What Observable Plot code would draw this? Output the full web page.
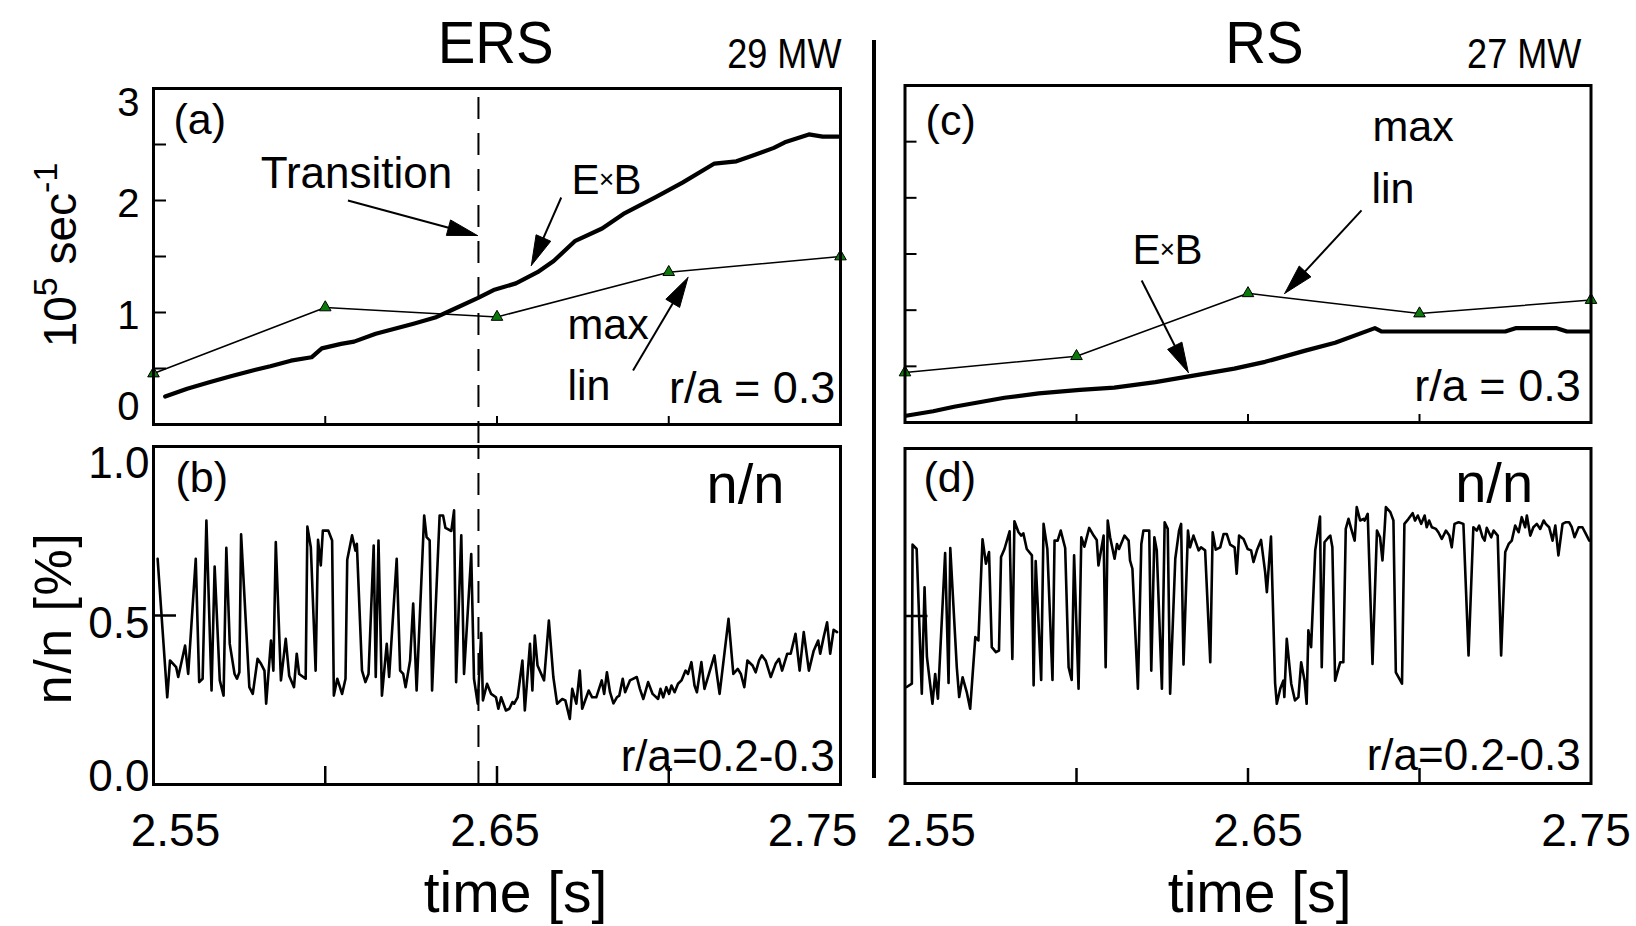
<!DOCTYPE html>
<html><head><meta charset="utf-8">
<script src="https://cdn.jsdelivr.net/npm/d3@7"></script>
<script src="https://cdn.jsdelivr.net/npm/@observablehq/plot@0.6"></script>
<style>
body{margin:0;background:#fff;}
#chart{position:relative;width:1636px;height:926px;overflow:hidden;font-family:"Liberation Sans",Arial,Helvetica,sans-serif;}
#chart svg{position:absolute;left:0;top:0;}
#sep{position:absolute;left:872px;top:40px;width:4px;height:738px;background:#000;}
</style></head><body><div id="chart"><div id="sep"></div></div>
<script>
// ---------------- data ----------------
const timeLabelValues = [2.55, 2.65, 2.75];
const innerTimeTicks = [2.60, 2.65, 2.70];
const rateTicks = [0.5, 1, 1.5, 2, 2.5];
const rateLabels = [3, 2, 1, 0];
const densTicksLeft = [0.5, 1.0];
const densLabels = [1.0, 0.5, 0.0];
const transitionTime = 2.6446;

// (a) ERS, r/a = 0.3
const ersLinTime = [2.55, 2.60, 2.65, 2.70, 2.75];
const ersLinMax = [0.455, 1.045, 0.96, 1.36, 1.50];
const ersExbTime = [2.5534, 2.5598, 2.566, 2.5725, 2.5786, 2.5840, 2.5900, 2.5960, 2.5990, 2.6046, 2.6084, 2.6147, 2.6257, 2.632, 2.6367, 2.6445, 2.649, 2.6555, 2.6618, 2.6665, 2.6728, 2.6806, 2.6868, 2.6962, 2.704, 2.7133, 2.7197, 2.7243, 2.7306, 2.7338, 2.7408, 2.7448, 2.7494];
const ersExbRate = [0.25, 0.32, 0.375, 0.43, 0.48, 0.52, 0.57, 0.60, 0.68, 0.72, 0.74, 0.81, 0.90, 0.955, 1.02, 1.13, 1.20, 1.26, 1.36, 1.46, 1.64, 1.75, 1.88, 2.03, 2.16, 2.33, 2.35, 2.40, 2.47, 2.52, 2.59, 2.57, 2.57];

// (c) RS, r/a = 0.3
const rsLinTime = [2.55, 2.60, 2.65, 2.70, 2.75];
const rsLinMax = [0.445, 0.59, 1.15, 0.97, 1.09];
const rsExbTime = [2.5503, 2.5582, 2.5643, 2.579, 2.589, 2.601, 2.611, 2.623, 2.6345, 2.646, 2.655, 2.6667, 2.6754, 2.687, 2.689, 2.725, 2.728, 2.740, 2.743, 2.7497];
const rsExbRate = [0.06, 0.10, 0.14, 0.22, 0.26, 0.29, 0.31, 0.36, 0.42, 0.48, 0.54, 0.64, 0.71, 0.84, 0.81, 0.81, 0.84, 0.84, 0.81, 0.81];

// (b) ERS density fluctuation, r/a = 0.2-0.3
const ersFlucTime = [2.5512,2.5540,2.5548,2.5566,2.5572,2.5592,2.5601,2.5623,2.5633,2.5643,2.5654,2.5669,2.5678,2.5693,2.5704,2.5712,2.5722,2.5736,2.5743,2.5750,2.5755,2.5779,2.5789,2.5803,2.5813,2.5823,2.5828,2.5842,2.5849,2.5856,2.5871,2.5885,2.5895,2.5909,2.5917,2.5924,2.5943,2.5948,2.5958,2.5972,2.5979,2.5987,2.5993,2.6009,2.6020,2.6025,2.6035,2.6049,2.6059,2.6064,2.6078,2.6088,2.6092,2.6107,2.6117,2.6126,2.6141,2.6147,2.6155,2.6165,2.6179,2.6186,2.6208,2.6218,2.6227,2.6234,2.6247,2.6256,2.6266,2.6288,2.6295,2.6304,2.6311,2.6333,2.6343,2.6350,2.6367,2.6375,2.6381,2.6396,2.6404,2.6425,2.6433,2.6444,2.6454,2.6459,2.6471,2.6483,2.6497,2.6504,2.6512,2.6526,2.6536,2.6545,2.6550,2.6560,2.6574,2.6581,2.6596,2.6603,2.6610,2.6618,2.6637,2.6651,2.6664,2.6675,2.6690,2.6699,2.6712,2.6719,2.6731,2.6741,2.6748,2.6767,2.6777,2.6789,2.6805,2.6812,2.6820,2.6829,2.6839,2.6849,2.6856,2.6866,2.6873,2.6887,2.6907,2.6916,2.6926,2.6940,2.6953,2.6969,2.6976,2.6984,2.6993,2.7001,2.7008,2.7017,2.7027,2.7037,2.7049,2.7056,2.7066,2.7075,2.7082,2.7095,2.7104,2.7117,2.7133,2.7140,2.7148,2.7162,2.7174,2.7188,2.7201,2.7210,2.7220,2.7229,2.7244,2.7253,2.7263,2.7271,2.7282,2.7297,2.7311,2.7321,2.7330,2.7345,2.7355,2.7369,2.7381,2.7393,2.7408,2.7422,2.7435,2.7441,2.7451,2.7461,2.7470,2.7480,2.7490];
const ersFlucPct = [0.668,0.258,0.367,0.347,0.318,0.411,0.327,0.668,0.303,0.313,0.781,0.278,0.645,0.308,0.263,0.700,0.416,0.327,0.313,0.332,0.740,0.288,0.268,0.372,0.357,0.337,0.239,0.426,0.337,0.717,0.308,0.431,0.322,0.288,0.387,0.327,0.313,0.763,0.702,0.337,0.724,0.648,0.751,0.751,0.722,0.263,0.313,0.268,0.313,0.665,0.737,0.692,0.712,0.337,0.303,0.327,0.707,0.318,0.722,0.263,0.416,0.318,0.668,0.337,0.327,0.288,0.367,0.535,0.278,0.796,0.732,0.722,0.278,0.796,0.796,0.759,0.750,0.811,0.303,0.737,0.327,0.682,0.313,0.239,0.448,0.249,0.298,0.268,0.258,0.224,0.258,0.219,0.224,0.244,0.239,0.258,0.367,0.219,0.416,0.278,0.441,0.352,0.308,0.485,0.318,0.239,0.253,0.249,0.194,0.283,0.239,0.337,0.224,0.278,0.258,0.258,0.308,0.268,0.332,0.273,0.240,0.258,0.263,0.313,0.273,0.308,0.318,0.283,0.253,0.303,0.268,0.253,0.283,0.258,0.288,0.268,0.293,0.273,0.298,0.308,0.337,0.327,0.362,0.293,0.273,0.362,0.283,0.327,0.382,0.327,0.268,0.387,0.490,0.327,0.342,0.327,0.288,0.367,0.352,0.332,0.367,0.382,0.367,0.318,0.357,0.372,0.337,0.387,0.387,0.446,0.337,0.451,0.337,0.396,0.426,0.387,0.436,0.480,0.387,0.458,0.451];

// (d) RS density fluctuation, r/a = 0.2-0.3
const rsFlucTime = [2.5505,2.5520,2.5522,2.5534,2.5549,2.5557,2.5564,2.5580,2.5588,2.5596,2.5617,2.5627,2.5632,2.5651,2.5658,2.5668,2.5680,2.5690,2.5705,2.5714,2.5726,2.5736,2.5745,2.5753,2.5765,2.5774,2.5780,2.5790,2.5805,2.5813,2.5819,2.5831,2.5839,2.5845,2.5855,2.5870,2.5875,2.5881,2.5897,2.5904,2.5915,2.5930,2.5936,2.5945,2.5954,2.5967,2.5977,2.5986,2.5993,2.6006,2.6014,2.6023,2.6037,2.6050,2.6059,2.6064,2.6079,2.6085,2.6091,2.6098,2.6111,2.6118,2.6124,2.6140,2.6152,2.6156,2.6163,2.6179,2.6189,2.6195,2.6212,2.6218,2.6227,2.6234,2.6249,2.6257,2.6266,2.6273,2.6288,2.6299,2.6305,2.6312,2.6325,2.6331,2.6341,2.6356,2.6363,2.6375,2.6390,2.6397,2.6406,2.6419,2.6429,2.6438,2.6448,2.6461,2.6467,2.6474,2.6487,2.6499,2.6509,2.6516,2.6526,2.6538,2.6550,2.6555,2.6567,2.6579,2.6584,2.6594,2.6603,2.6606,2.6613,2.6626,2.6637,2.6647,2.6655,2.6665,2.6671,2.6676,2.6684,2.6696,2.6710,2.6715,2.6723,2.6735,2.6740,2.6746,2.6754,2.6762,2.6769,2.6778,2.6785,2.6793,2.6801,2.6811,2.6817,2.6827,2.6837,2.6840,2.6849,2.6863,2.6876,2.6885,2.6892,2.6898,2.6902,2.6915,2.6924,2.6931,2.6949,2.6956,2.6968,2.6980,2.6987,2.6995,2.7005,2.7015,2.7021,2.7028,2.7036,2.7048,2.7055,2.7065,2.7077,2.7087,2.7094,2.7102,2.7114,2.7128,2.7143,2.7157,2.7167,2.7174,2.7184,2.7190,2.7196,2.7209,2.7216,2.7228,2.7238,2.7250,2.7260,2.7269,2.7279,2.7289,2.7298,2.7308,2.7313,2.7323,2.7332,2.7342,2.7352,2.7362,2.7368,2.7378,2.7388,2.7396,2.7405,2.7417,2.7427,2.7436,2.7444,2.7452,2.7464,2.7475,2.7485,2.7495];
const rsFlucPct = [0.288,0.298,0.713,0.700,0.268,0.586,0.377,0.238,0.327,0.253,0.688,0.300,0.703,0.347,0.258,0.317,0.273,0.223,0.437,0.427,0.729,0.656,0.691,0.407,0.392,0.397,0.676,0.700,0.753,0.372,0.783,0.750,0.740,0.747,0.700,0.681,0.293,0.664,0.309,0.775,0.700,0.309,0.725,0.725,0.755,0.703,0.347,0.309,0.681,0.283,0.735,0.707,0.763,0.740,0.727,0.651,0.740,0.347,0.785,0.735,0.671,0.715,0.700,0.740,0.725,0.666,0.641,0.283,0.715,0.755,0.755,0.337,0.735,0.696,0.283,0.780,0.760,0.268,0.671,0.755,0.775,0.355,0.755,0.705,0.740,0.696,0.705,0.696,0.362,0.750,0.698,0.705,0.745,0.745,0.713,0.705,0.626,0.740,0.730,0.700,0.696,0.661,0.696,0.727,0.631,0.571,0.737,0.300,0.238,0.283,0.307,0.258,0.432,0.298,0.248,0.258,0.362,0.307,0.238,0.457,0.407,0.696,0.797,0.347,0.720,0.735,0.740,0.705,0.307,0.337,0.362,0.362,0.760,0.790,0.760,0.725,0.825,0.785,0.790,0.785,0.805,0.357,0.755,0.735,0.666,0.755,0.825,0.810,0.785,0.332,0.298,0.775,0.790,0.807,0.785,0.800,0.775,0.800,0.765,0.785,0.765,0.760,0.750,0.730,0.755,0.740,0.705,0.775,0.780,0.775,0.382,0.765,0.755,0.770,0.735,0.725,0.763,0.735,0.755,0.740,0.382,0.691,0.715,0.725,0.770,0.750,0.795,0.765,0.800,0.740,0.765,0.775,0.760,0.785,0.775,0.765,0.725,0.770,0.681,0.775,0.780,0.780,0.765,0.735,0.765,0.765,0.745,0.725];

// annotation arrows (time, value of tail -> tip)
const ersArrows = [
  {name: "Transition", t1: 2.6066, v1: 2.00, t2: 2.6443, v2: 1.6875},
  {name: "ExB", t1: 2.6687, v1: 2.027, t2: 2.6600, v2: 1.42},
  {name: "maxlin", t1: 2.6896, v1: 0.482, t2: 2.7056, v2: 1.3125}
];
const rsArrows = [
  {name: "maxlin", t1: 2.6831, v1: 1.888, t2: 2.6607, v2: 1.149},
  {name: "ExB", t1: 2.6190, v1: 1.264, t2: 2.6326, v2: 0.445}
];

// ---------------- layout ----------------
const W = 1636, H = 926;
const FONT = '"Liberation Sans", Arial, Helvetica, sans-serif';
const L = {ers: [153, W - 840], rs: [904.5, W - 1590.5]};
const T = {a: [88, H - 424], b: [446, H - 784], c: [85, H - 422], d: [448, H - 783]};

const zip = (ts, vs) => ts.map((t, i) => ({t, v: vs[i]}));
const txt = (t, v, s, o = {}) => Plot.text([{t, v, s}], {x: "t", y: "v", text: "s", lineAnchor: "bottom", fill: "black", fontSize: 44, ...o});

function arrowMarks(arrows, horiz, vert, ydom) {
  const xs = Plot.scale({x: {domain: [2.55, 2.75], range: [horiz[0], W - horiz[1]]}});
  const ys = Plot.scale({y: {domain: ydom, range: [H - vert[1], vert[0]]}});
  const heads = [];
  const shafts = [];
  for (const a of arrows) {
    const x1 = xs.apply(a.t1), y1 = ys.apply(a.v1), x2 = xs.apply(a.t2), y2 = ys.apply(a.v2);
    const len = Math.hypot(x2 - x1, y2 - y1), ux = (x2 - x1) / len, uy = (y2 - y1) / len;
    const hl = 30, hw = 8;
    const bx = x2 - ux * hl, by = y2 - uy * hl;
    const pts = [[x2, y2], [bx - uy * hw, by + ux * hw], [bx + uy * hw, by - ux * hw], [x2, y2]];
    for (const [px, py] of pts) heads.push({id: a.name, t: xs.invert(px), v: ys.invert(py)});
    shafts.push({t1: a.t1, v1: a.v1, t2: xs.invert(bx + ux * 4), v2: ys.invert(by + uy * 4)});
  }
  return [
    Plot.link(shafts, {x1: "t1", y1: "v1", x2: "t2", y2: "v2", stroke: "black", strokeWidth: 2}),
    Plot.line(heads, {x: "t", y: "v", z: "id", fill: "black", stroke: "black", strokeWidth: 1, curve: "linear"})
  ];
}

function panel(horiz, vert, ydom, marks) {
  return Plot.plot({
    width: W, height: H,
    marginLeft: horiz[0], marginRight: horiz[1], marginTop: vert[0], marginBottom: vert[1],
    x: {domain: [2.55, 2.75], axis: null},
    y: {domain: ydom, axis: null},
    style: {background: "transparent", overflow: "visible", fontFamily: FONT, color: "black", position: "absolute", left: "0px", top: "0px", maxWidth: "none"},
    marks
  });
}

const exbText = (t, v) => [
  txt(t, v, "E", {textAnchor: "end", dx: -7, fontSize: 42}),
  txt(t, v, "×", {textAnchor: "middle", fontSize: 26, dy: -6}),
  txt(t, v, "B", {textAnchor: "start", dx: 7, fontSize: 42})
];
const rateLabel = (k, dy) => txt(2.55, rateLabels[k], String(rateLabels[k]), {textAnchor: "end", dx: -14, dy, fontSize: 40});

const chart = document.getElementById("chart");

// (a)
chart.appendChild(panel(L.ers, T.a, [0, 3], [
  Plot.axisY(rateTicks, {tickSize: 13, dx: 13, fill: "none", label: null, strokeWidth: 2}),
  Plot.axisX(innerTimeTicks, {tickSize: 8, dy: -8, fill: "none", label: null, strokeWidth: 2}),
  rateLabel(0, 27), rateLabel(1, 16), rateLabel(2, 16), rateLabel(3, -5),
  Plot.ruleX([transitionTime], {y1: () => 2.92, y2: () => -0.196, stroke: "black", strokeWidth: 2, strokeDasharray: "22,14"}),
  Plot.line(zip(ersExbTime, ersExbRate), {x: "t", y: "v", stroke: "black", strokeWidth: 4.2}),
  Plot.line(zip(ersLinTime, ersLinMax), {x: "t", y: "v", stroke: "black", strokeWidth: 1.5}),
  Plot.dot(zip(ersLinTime, ersLinMax), {x: "t", y: "v", symbol: "triangle", r: 4.3, fill: "#0a7a0a", stroke: "black", strokeWidth: 1}),
  ...arrowMarks(ersArrows, L.ers, T.a, [0, 3]),
  txt(2.5558, 2.598, "(a)", {textAnchor: "start", fontSize: 43}),
  txt(2.6091, 2.116, "Transition", {textAnchor: "middle", fontSize: 44}),
  ...exbText(2.6819, 2.0625),
  txt(2.6705, 0.759, "max", {textAnchor: "start", fontSize: 43}),
  txt(2.6705, 0.223, "lin", {textAnchor: "start", fontSize: 43}),
  txt(2.7485, 0.196, "r/a = 0.3", {textAnchor: "end", fontSize: 45}),
  txt(2.6496, 3.23, "ERS", {textAnchor: "middle", fontSize: 60}),
  txt(2.7503, 3.1875, "29 MW", {textAnchor: "end", fontSize: 43}),
  Plot.frame({stroke: "black", strokeWidth: 3})
]));

// (b)
chart.appendChild(panel(L.ers, T.b, [0, 1], [
  Plot.axisY(densTicksLeft, {tickSize: 23, dx: 23, fill: "none", label: null, strokeWidth: 2.5}),
  Plot.axisX(innerTimeTicks, {tickSize: 18, dy: -18, fill: "none", label: null, strokeWidth: 2.5}),
  txt(2.55, densLabels[0], "1.0", {textAnchor: "end", dx: -4, dy: 31, fontSize: 44}),
  txt(2.55, densLabels[1], "0.5", {textAnchor: "end", dx: -4, dy: 22, fontSize: 44}),
  txt(2.55, densLabels[2], "0.0", {textAnchor: "end", dx: -4, dy: 6, fontSize: 44}),
  Plot.ruleX([transitionTime], {y1: () => 1, y2: () => 0, stroke: "black", strokeWidth: 2, strokeDasharray: "22,14", strokeDashoffset: 9}),
  Plot.line(zip(ersFlucTime, ersFlucPct), {x: "t", y: "v", stroke: "black", strokeWidth: 2.6}),
  txt(2.5564, 0.864, "(b)", {textAnchor: "start", fontSize: 43}),
  txt(2.7110, 0.834, "n/n", {textAnchor: "start", fontSize: 56}),
  txt(2.7483, 0.041, "r/a=0.2-0.3", {textAnchor: "end", fontSize: 44}),
  Plot.text([{t: 2.55, s: "2.55"}], {x: "t", text: "s", frameAnchor: "bottom", dy: 61, dx: 22, lineAnchor: "bottom", fontSize: 46}),
  Plot.text([{t: 2.65, s: "2.65"}], {x: "t", text: "s", frameAnchor: "bottom", dy: 61, dx: -2, lineAnchor: "bottom", fontSize: 46}),
  Plot.text([{t: 2.75, s: "2.75"}], {x: "t", text: "s", frameAnchor: "bottom", dy: 61, dx: -28, lineAnchor: "bottom", fontSize: 46}),
  Plot.text([{t: 2.6554, s: "time [s]"}], {x: "t", text: "s", frameAnchor: "bottom", dy: 127, lineAnchor: "bottom", fontSize: 57}),
  Plot.frame({stroke: "black", strokeWidth: 3})
]));

// (c)
chart.appendChild(panel(L.rs, T.c, [0, 3], [
  Plot.axisY(rateTicks, {tickSize: 12, dx: 12, fill: "none", label: null, strokeWidth: 2}),
  Plot.axisX(innerTimeTicks, {tickSize: 8, dy: -8, fill: "none", label: null, strokeWidth: 2}),
  Plot.line(zip(rsExbTime, rsExbRate), {x: "t", y: "v", stroke: "black", strokeWidth: 4.2}),
  Plot.line(zip(rsLinTime, rsLinMax), {x: "t", y: "v", stroke: "black", strokeWidth: 1.5}),
  Plot.dot(zip(rsLinTime, rsLinMax), {x: "t", y: "v", symbol: "triangle", r: 4.3, fill: "#0a7a0a", stroke: "black", strokeWidth: 1}),
  ...arrowMarks(rsArrows, L.rs, T.c, [0, 3]),
  txt(2.5560, 2.555, "(c)", {textAnchor: "start", fontSize: 43}),
  txt(2.6863, 2.510, "max", {textAnchor: "start", fontSize: 43}),
  txt(2.6860, 1.958, "lin", {textAnchor: "start", fontSize: 43}),
  ...exbText(2.6265, 1.415),
  txt(2.7470, 0.187, "r/a = 0.3", {textAnchor: "end", fontSize: 45}),
  txt(2.6548, 3.20, "RS", {textAnchor: "middle", fontSize: 60}),
  txt(2.7472, 3.160, "27 MW", {textAnchor: "end", fontSize: 43}),
  Plot.frame({stroke: "black", strokeWidth: 3})
]));

// (d)
chart.appendChild(panel(L.rs, T.d, [0, 1], [
  Plot.axisY([0.5], {tickSize: 23, dx: 23, fill: "none", label: null, strokeWidth: 2.5}),
  Plot.axisX(innerTimeTicks, {tickSize: 15, dy: -15, fill: "none", label: null, strokeWidth: 2.5}),
  Plot.line(zip(rsFlucTime, rsFlucPct), {x: "t", y: "v", stroke: "black", strokeWidth: 2.6}),
  txt(2.5554, 0.869, "(d)", {textAnchor: "start", fontSize: 43}),
  txt(2.7104, 0.839, "n/n", {textAnchor: "start", fontSize: 56}),
  txt(2.7470, 0.039, "r/a=0.2-0.3", {textAnchor: "end", fontSize: 44}),
  Plot.text([{t: 2.55, s: "2.55"}], {x: "t", text: "s", frameAnchor: "bottom", dy: 62, dx: 26, lineAnchor: "bottom", fontSize: 46}),
  Plot.text([{t: 2.65, s: "2.65"}], {x: "t", text: "s", frameAnchor: "bottom", dy: 62, dx: 10, lineAnchor: "bottom", fontSize: 46}),
  Plot.text([{t: 2.75, s: "2.75"}], {x: "t", text: "s", frameAnchor: "bottom", dy: 62, dx: -5, lineAnchor: "bottom", fontSize: 46}),
  Plot.text([{t: 2.6534, s: "time [s]"}], {x: "t", text: "s", frameAnchor: "bottom", dy: 128, lineAnchor: "bottom", fontSize: 57}),
  Plot.frame({stroke: "black", strokeWidth: 3})
]));

// narrower lettering of the titles, as in the original figure
d3.selectAll("#chart svg text").each(function () {
  const s = this.textContent;
  const tr = this.getAttribute("transform");
  if (!tr) return;
  if (/MW$/.test(s)) this.setAttribute("transform", tr + " scale(0.84,1)");
  else if (s === "ERS" || s === "RS") this.setAttribute("transform", tr + " scale(0.94,1)");
});

// rotated y-axis titles (with superscripts)
const ov = d3.create("svg").attr("width", W).attr("height", H)
  .style("font-family", FONT).style("overflow", "visible");
const yl1 = ov.append("text").attr("transform", "translate(76,255) rotate(-90)")
  .attr("text-anchor", "middle").attr("font-size", 46).attr("fill", "black");
yl1.append("tspan").text("10");
yl1.append("tspan").attr("font-size", 34).attr("dy", -19).text("5");
yl1.append("tspan").attr("dy", 19).text(" sec");
yl1.append("tspan").attr("font-size", 34).attr("dy", -19).text("-1");
ov.append("text").attr("transform", "translate(71,618) rotate(-90)")
  .attr("text-anchor", "middle").attr("font-size", 52).attr("fill", "black")
  .attr("letter-spacing", 1.5).text("n/n [%]");
chart.appendChild(ov.node());
</script></body></html>
